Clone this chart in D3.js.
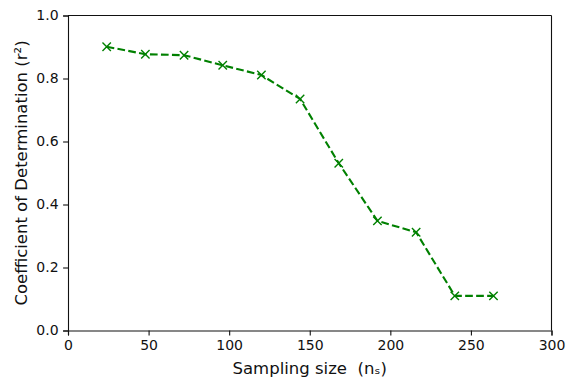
<!DOCTYPE html>
<html>
<head>
<meta charset="utf-8">
<script src="https://cdn.jsdelivr.net/npm/d3@7"></script>
<style>
  body { margin: 0; background: #fff; }
  svg { display: block; font-family: "DejaVu Sans", sans-serif; }
  .tick text { font-family: "DejaVu Sans", sans-serif; font-size: 14px; fill: #111; }
  .tick line, .domain { stroke: #111; }
</style>
</head>
<body>
<div id="chart"></div>
<script>
const sampleSizes = [24, 48, 72, 96, 120, 144, 168, 192, 216, 240, 264];
const r2Values = [0.901, 0.877, 0.874, 0.842, 0.811, 0.735, 0.531, 0.348, 0.312, 0.110, 0.110];
const xTicks = [0, 50, 100, 150, 200, 250, 300];
const yTicks = [0.0, 0.2, 0.4, 0.6, 0.8, 1.0];

const width = 566, height = 378;
const margin = { top: 15.5, right: 14.5, bottom: 47.5, left: 68 };

const svg = d3.select("#chart")
    .append("svg")
    .attr("width", width)
    .attr("height", height);

const x = d3.scaleLinear().domain([0, 300]).range([margin.left, width - margin.right]);
const y = d3.scaleLinear().domain([0, 1]).range([height - margin.bottom, margin.top]);

// axes
svg.append("g")
    .attr("transform", "translate(0," + (height - margin.bottom) + ")")
    .call(d3.axisBottom(x).tickValues(xTicks).tickSize(4.9).tickPadding(4.5).tickFormat(d3.format("d")))
    .call(g => g.selectAll("line, path").attr("stroke-width", 1.1));

svg.append("g")
    .attr("transform", "translate(" + margin.left + ",0)")
    .call(d3.axisLeft(y).tickValues(yTicks).tickSize(4.9).tickPadding(4.5).tickFormat(d3.format(".1f")))
    .call(g => g.selectAll("line, path").attr("stroke-width", 1.1));

// top and right spines
svg.append("line")
    .attr("x1", x(0)).attr("x2", x(300))
    .attr("y1", y(1)).attr("y2", y(1))
    .attr("stroke", "#111").attr("stroke-width", 1.1);
svg.append("line")
    .attr("x1", x(300)).attr("x2", x(300))
    .attr("y1", y(0)).attr("y2", y(1))
    .attr("stroke", "#111").attr("stroke-width", 1.1);

const data = sampleSizes.map((s, i) => ({ s: s, r: r2Values[i] }));

const line = d3.line()
    .x(d => x(d.s))
    .y(d => y(d.r));

svg.append("path")
    .datum(data)
    .attr("d", line)
    .attr("fill", "none")
    .attr("stroke", "green")
    .attr("stroke-width", 2.1)
    .attr("stroke-dasharray", "7.7,3.3");

const m = 4.2;
svg.selectAll(".marker")
    .data(data)
    .enter()
    .append("path")
    .attr("class", "marker")
    .attr("d", d => {
        const cx = x(d.s), cy = y(d.r);
        return "M" + (cx - m) + "," + (cy - m) + "L" + (cx + m) + "," + (cy + m) +
               "M" + (cx - m) + "," + (cy + m) + "L" + (cx + m) + "," + (cy - m);
    })
    .attr("stroke", "green")
    .attr("stroke-width", 1.4)
    .attr("fill", "none");

// axis labels
svg.append("text")
    .attr("x", (x(0) + x(300)) / 2)
    .attr("y", 374)
    .attr("text-anchor", "middle")
    .attr("fill", "#111")
    .style("font-size", "16.5px")
    .style("white-space", "pre")
    .text("Sampling size  (nₛ)");

svg.append("text")
    .attr("transform", "translate(27," + ((y(0) + y(1)) / 2) + ") rotate(-90)")
    .attr("text-anchor", "middle")
    .attr("fill", "#111")
    .style("font-size", "16.5px")
    .text("Coefficient of Determination (r²)");
</script>
</body>
</html>
